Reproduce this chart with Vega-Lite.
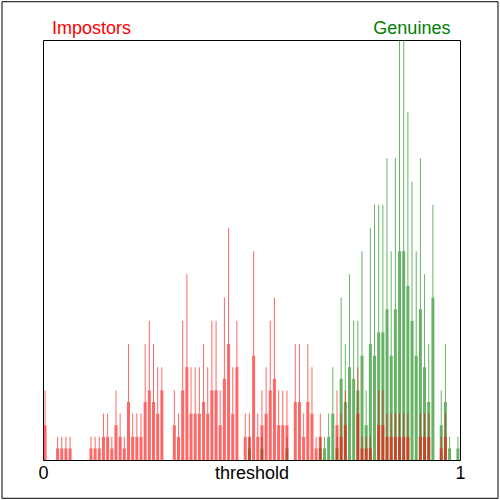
{
  "$schema": "https://vega.github.io/schema/vega-lite/v6.json",
  "autosize": {"type": "none"},
  "padding": {"left": 43, "top": 40, "right": 40, "bottom": 40},
  "width": 417,
  "height": 420,
  "background": "white",
  "config": {
    "view": {"stroke": "black", "strokeWidth": 1},
    "font": "Liberation Sans"
  },
  "datasets": {
    "hist": [
      {"s":"G","t":0.495,"b":1,"p":2},
      {"s":"G","t":0.525,"b":1,"p":2},
      {"s":"G","t":0.585,"b":1,"p":2},
      {"s":"G","t":0.665,"b":1,"p":2},
      {"s":"G","t":0.675,"b":1,"p":2},
      {"s":"G","t":0.685,"b":2,"p":4},
      {"s":"G","t":0.695,"b":4,"p":8},
      {"s":"G","t":0.705,"b":1,"p":2},
      {"s":"G","t":0.715,"b":7,"p":14},
      {"s":"G","t":0.725,"b":5,"p":10},
      {"s":"G","t":0.735,"b":8,"p":16},
      {"s":"G","t":0.745,"b":7,"p":12},
      {"s":"G","t":0.755,"b":6,"p":12},
      {"s":"G","t":0.765,"b":9,"p":18},
      {"s":"G","t":0.775,"b":3,"p":6},
      {"s":"G","t":0.785,"b":10,"p":20},
      {"s":"G","t":0.795,"b":9,"p":22},
      {"s":"G","t":0.805,"b":11,"p":22},
      {"s":"G","t":0.815,"b":11,"p":22},
      {"s":"G","t":0.825,"b":13,"p":26},
      {"s":"G","t":0.835,"b":9,"p":18},
      {"s":"G","t":0.845,"b":13,"p":26},
      {"s":"G","t":0.855,"b":18,"p":38},
      {"s":"G","t":0.865,"b":18,"p":38},
      {"s":"G","t":0.875,"b":15,"p":30},
      {"s":"G","t":0.885,"b":12,"p":24},
      {"s":"G","t":0.895,"b":9,"p":18},
      {"s":"G","t":0.905,"b":13,"p":26},
      {"s":"G","t":0.915,"b":8,"p":16},
      {"s":"G","t":0.925,"b":5,"p":10},
      {"s":"G","t":0.935,"b":14,"p":22},
      {"s":"G","t":0.955,"b":3,"p":6},
      {"s":"G","t":0.965,"b":5,"p":10},
      {"s":"G","t":0.975,"b":1,"p":2},
      {"s":"G","t":0.995,"b":1,"p":2},
      {"s":"I","t":0.005,"b":3,"p":6},
      {"s":"I","t":0.035,"b":1,"p":2},
      {"s":"I","t":0.045,"b":1,"p":2},
      {"s":"I","t":0.055,"b":1,"p":2},
      {"s":"I","t":0.065,"b":1,"p":2},
      {"s":"I","t":0.115,"b":1,"p":2},
      {"s":"I","t":0.125,"b":1,"p":2},
      {"s":"I","t":0.135,"b":1,"p":2},
      {"s":"I","t":0.145,"b":2,"p":4},
      {"s":"I","t":0.155,"b":2,"p":4},
      {"s":"I","t":0.165,"b":1,"p":2},
      {"s":"I","t":0.175,"b":3,"p":6},
      {"s":"I","t":0.185,"b":2,"p":4},
      {"s":"I","t":0.195,"b":1,"p":2},
      {"s":"I","t":0.205,"b":5,"p":10},
      {"s":"I","t":0.215,"b":2,"p":4},
      {"s":"I","t":0.225,"b":2,"p":4},
      {"s":"I","t":0.235,"b":2,"p":4},
      {"s":"I","t":0.245,"b":5,"p":10},
      {"s":"I","t":0.255,"b":6,"p":12},
      {"s":"I","t":0.265,"b":5,"p":10},
      {"s":"I","t":0.275,"b":4,"p":8},
      {"s":"I","t":0.285,"b":6,"p":8},
      {"s":"I","t":0.315,"b":3,"p":6},
      {"s":"I","t":0.325,"b":2,"p":4},
      {"s":"I","t":0.335,"b":6,"p":12},
      {"s":"I","t":0.345,"b":8,"p":16},
      {"s":"I","t":0.355,"b":4,"p":8},
      {"s":"I","t":0.365,"b":4,"p":8},
      {"s":"I","t":0.375,"b":4,"p":8},
      {"s":"I","t":0.385,"b":5,"p":10},
      {"s":"I","t":0.395,"b":4,"p":8},
      {"s":"I","t":0.405,"b":6,"p":12},
      {"s":"I","t":0.415,"b":6,"p":12},
      {"s":"I","t":0.425,"b":3,"p":6},
      {"s":"I","t":0.435,"b":7,"p":14},
      {"s":"I","t":0.445,"b":10,"p":20},
      {"s":"I","t":0.455,"b":4,"p":8},
      {"s":"I","t":0.465,"b":8,"p":12},
      {"s":"I","t":0.485,"b":2,"p":4},
      {"s":"I","t":0.495,"b":2,"p":4},
      {"s":"I","t":0.505,"b":9,"p":18},
      {"s":"I","t":0.515,"b":2,"p":4},
      {"s":"I","t":0.525,"b":3,"p":6},
      {"s":"I","t":0.535,"b":4,"p":8},
      {"s":"I","t":0.545,"b":6,"p":12},
      {"s":"I","t":0.555,"b":7,"p":14},
      {"s":"I","t":0.565,"b":3,"p":6},
      {"s":"I","t":0.575,"b":3,"p":6},
      {"s":"I","t":0.585,"b":3,"p":6},
      {"s":"I","t":0.605,"b":5,"p":10},
      {"s":"I","t":0.615,"b":5,"p":10},
      {"s":"I","t":0.625,"b":2,"p":4},
      {"s":"I","t":0.635,"b":5,"p":10},
      {"s":"I","t":0.645,"b":4,"p":8},
      {"s":"I","t":0.655,"b":1,"p":2},
      {"s":"I","t":0.665,"b":2,"p":4},
      {"s":"I","t":0.705,"b":3,"p":6},
      {"s":"I","t":0.715,"b":2,"p":4},
      {"s":"I","t":0.725,"b":3,"p":6},
      {"s":"I","t":0.755,"b":4,"p":8},
      {"s":"I","t":0.765,"b":1,"p":2},
      {"s":"I","t":0.775,"b":1,"p":2},
      {"s":"I","t":0.785,"b":1,"p":2},
      {"s":"I","t":0.805,"b":3,"p":6},
      {"s":"I","t":0.815,"b":3,"p":6},
      {"s":"I","t":0.825,"b":2,"p":4},
      {"s":"I","t":0.835,"b":2,"p":4},
      {"s":"I","t":0.845,"b":2,"p":4},
      {"s":"I","t":0.855,"b":2,"p":4},
      {"s":"I","t":0.865,"b":2,"p":4},
      {"s":"I","t":0.875,"b":2,"p":4},
      {"s":"I","t":0.905,"b":2,"p":4},
      {"s":"I","t":0.915,"b":2,"p":4},
      {"s":"I","t":0.925,"b":2,"p":4},
      {"s":"I","t":0.955,"b":1,"p":2},
      {"s":"I","t":0.965,"b":2,"p":4}
    ]
  },
  "data": {"name": "hist"},
  "layer": [
    {
      "transform": [{"filter": "datum.s === 'G'"}],
      "mark": {"type": "bar", "width": 3, "color": "#008000", "opacity": 0.6, "clip": true},
      "encoding": {
        "x": {"field": "t", "type": "quantitative", "scale": {"domain": [0, 1], "nice": false, "zero": false, "padding": 0}, "axis": {"values": [0, 1], "title": "threshold", "domain": false, "ticks": false, "tickSize": 0, "grid": false, "labelFontSize": 18, "labelColor": "black", "labelFont": "Liberation Sans", "labelBaseline": "alphabetic", "labelAlign": "center", "labelPadding": 18, "labelFlush": false, "labelOverlap": false, "format": "d", "titleFontSize": 18, "titleFontWeight": "normal", "titleFont": "Liberation Sans", "titleColor": "black", "titleBaseline": "alphabetic", "titleY": 18}},
        "y": {"field": "b", "type": "quantitative", "scale": {"domain": [0, 36.2], "nice": false, "padding": 0}, "axis": null}
      }
    },
    {
      "transform": [{"filter": "datum.s === 'G'"}],
      "mark": {"type": "bar", "width": 1, "color": "#008000", "opacity": 0.6, "clip": true},
      "encoding": {
        "x": {"field": "t", "type": "quantitative"},
        "y": {"field": "p", "type": "quantitative"},
        "y2": {"field": "b"}
      }
    },
    {
      "transform": [{"filter": "datum.s === 'I'"}],
      "mark": {"type": "bar", "width": 3, "color": "#FF0000", "opacity": 0.6, "clip": true},
      "encoding": {
        "x": {"field": "t", "type": "quantitative"},
        "y": {"field": "b", "type": "quantitative"}
      }
    },
    {
      "transform": [{"filter": "datum.s === 'I'"}],
      "mark": {"type": "bar", "width": 1, "color": "#FF0000", "opacity": 0.6, "clip": true},
      "encoding": {
        "x": {"field": "t", "type": "quantitative"},
        "y": {"field": "p", "type": "quantitative"},
        "y2": {"field": "b"}
      }
    },
    {
      "data": {"values": [{"label": "Impostors"}]},
      "mark": {"type": "text", "color": "#FF0000", "fontSize": 18, "font": "Liberation Sans", "align": "left", "baseline": "alphabetic"},
      "encoding": {
        "text": {"field": "label"},
        "x": {"datum": 0.0216},
        "y": {"datum": 36.75}
      }
    },
    {
      "data": {"values": [{"label": "Genuines"}]},
      "mark": {"type": "text", "color": "#008000", "fontSize": 18, "font": "Liberation Sans", "align": "right", "baseline": "alphabetic"},
      "encoding": {
        "text": {"field": "label"},
        "x": {"datum": 0.977},
        "y": {"datum": 36.75}
      }
    },
    {
      "data": {"values": [{"frame": "outer"}]},
      "mark": {"type": "rect", "fill": null, "stroke": "black", "strokeWidth": 1},
      "encoding": {
        "x": {"datum": -0.0983},
        "x2": {"datum": 1.0911},
        "y": {"datum": 39.5},
        "y2": {"datum": -3.3}
      }
    }
  ]
}
